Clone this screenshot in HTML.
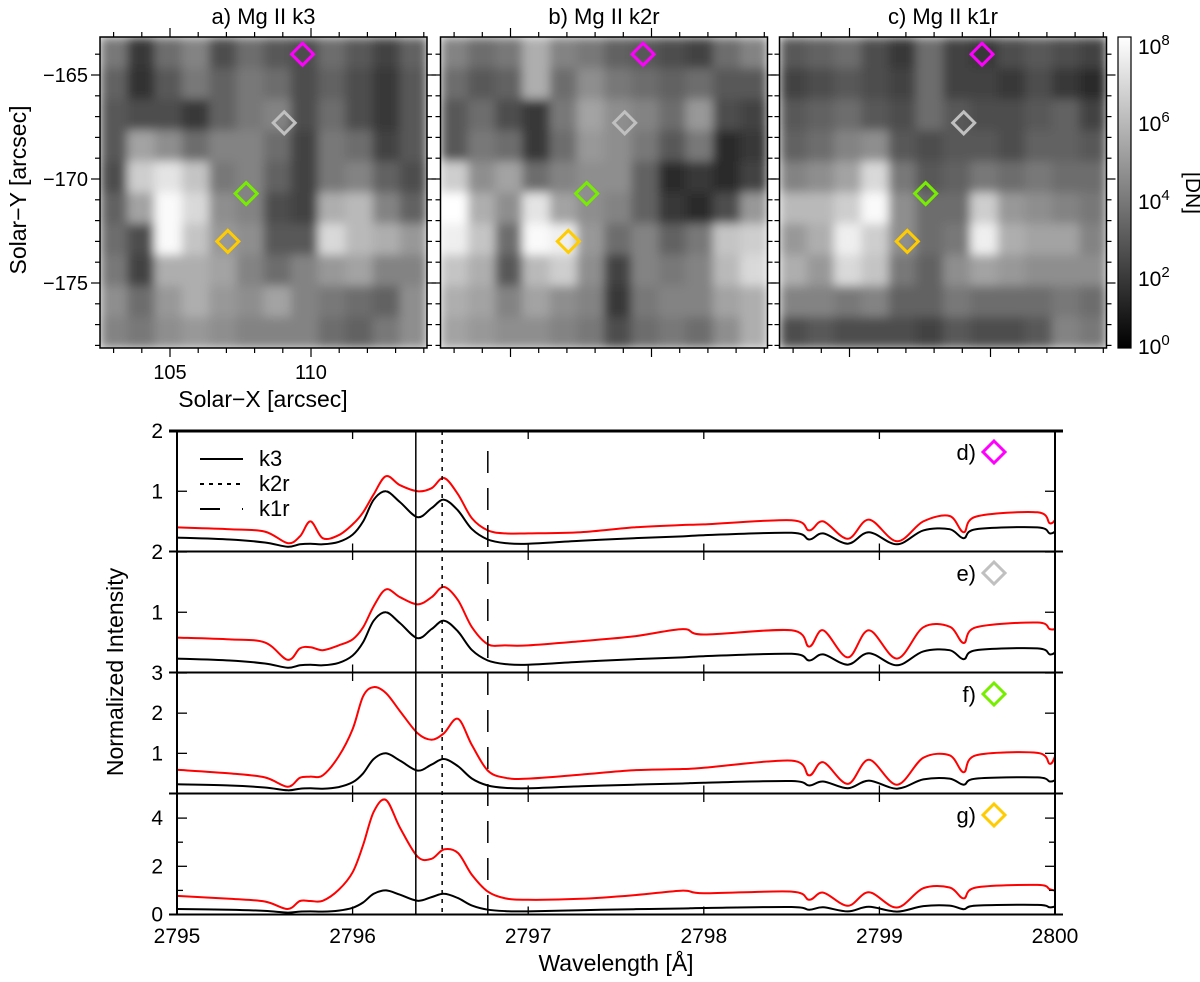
<!DOCTYPE html>
<html><head><meta charset="utf-8">
<style>
html,body{margin:0;padding:0;background:#fff;}
svg{display:block;font-family:"Liberation Sans",sans-serif;}
</style></head>
<body>
<svg id="fig" width="1200" height="982" viewBox="0 0 1200 982" xmlns="http://www.w3.org/2000/svg">
<defs>
<linearGradient id="cbar" x1="0" y1="1" x2="0" y2="0">
<stop offset="0" stop-color="#000"/><stop offset="1" stop-color="#fff"/>
</linearGradient>
<filter id="soft" x="0" y="0" width="1" height="1"><feGaussianBlur stdDeviation="5" edgeMode="duplicate"/></filter>
<clipPath id="clipA"><rect x="100" y="37" width="327" height="311"/></clipPath>
<clipPath id="clipB"><rect x="440.5" y="37" width="327" height="311"/></clipPath>
<clipPath id="clipC"><rect x="779.5" y="37" width="327" height="311"/></clipPath>
</defs>
<g id="maps"></g>
<g>
<rect x="1118" y="37" width="13" height="311" fill="url(#cbar)" stroke="#000" stroke-width="1.2"/>
<g font-size="21" fill="#000">
<text x="1138" y="54">10<tspan dy="-9" font-size="15">8</tspan></text>
<text x="1138" y="131">10<tspan dy="-9" font-size="15">6</tspan></text>
<text x="1138" y="209">10<tspan dy="-9" font-size="15">4</tspan></text>
<text x="1138" y="286">10<tspan dy="-9" font-size="15">2</tspan></text>
<text x="1138" y="354">10<tspan dy="-9" font-size="15">0</tspan></text>
<text transform="translate(1186,193) rotate(90)" text-anchor="middle">[DN]</text>
</g>
</g>
<g id="spec"></g>
</svg>
<script>
// ---------- image map data (coarse grayscale, 12 cols x 10 rows) ----------
const mapA = [
[100,40,90,110,60,90,70,60,90,70,50,80],
[80,35,70,100,80,100,90,60,80,60,40,70],
[70,60,60,40,80,100,110,60,90,60,40,70],
[70,140,120,90,110,110,90,50,100,90,50,70],
[60,180,200,170,100,110,80,50,100,110,80,60],
[80,140,220,190,120,110,60,50,150,160,110,80],
[90,60,220,170,130,120,70,70,190,160,150,130],
[100,50,150,150,140,110,90,110,130,140,110,110],
[120,90,130,150,130,120,140,110,100,90,80,120],
[110,100,120,130,120,110,110,110,90,80,100,120]];
const mapB = [
[110,90,100,150,110,100,80,70,60,50,90,110],
[90,70,80,150,90,120,100,90,80,90,70,70],
[70,90,60,40,100,140,120,110,90,130,60,50],
[70,100,90,40,90,130,120,100,70,100,30,40],
[180,120,140,90,110,120,120,80,30,40,30,50],
[230,150,120,200,140,120,110,80,40,30,60,130],
[210,170,90,220,210,130,90,110,80,100,170,180],
[170,150,70,160,180,120,50,110,100,110,160,190],
[150,140,110,140,120,110,40,100,110,110,140,150],
[140,130,120,120,110,100,60,90,100,90,120,150]];
const mapC = [
[70,80,90,60,40,90,50,40,60,70,60,50],
[50,60,70,60,50,90,50,50,40,60,40,30],
[70,80,90,70,60,90,70,60,60,70,80,50],
[80,90,110,120,70,60,70,70,60,80,80,70],
[110,120,140,190,100,70,80,100,90,100,90,90],
[160,160,180,220,120,90,90,180,130,120,110,100],
[130,150,210,180,120,90,100,210,150,140,140,110],
[150,130,190,170,100,80,120,140,130,120,120,120],
[110,110,100,110,80,80,100,90,90,90,100,90],
[60,70,60,60,60,50,70,60,60,70,110,100]];
const mapTitles = ["a) Mg II k3","b) Mg II k2r","c) Mg II k1r"];
const markerX = [109.7, 109.05, 107.7, 107.05];
const markerY = [-164.0, -167.3, -170.7, -173.0];
const markerColors = ["#ff00ff","#c0c0c0","#77ee00","#ffcc00"];
const xTicks = [105, 110];
const yTicks = [-165, -170, -175];

// ---------- spectra data ----------
const wave = [2795.0,2795.3,2795.5,2795.63,2795.7,2795.76,2795.83,2795.92,2796.0,2796.06,2796.12,2796.19,2796.27,2796.37,2796.45,2796.52,2796.6,2796.68,2796.77,2796.87,2797.0,2797.3,2797.6,2797.88,2798.0,2798.5,2798.6,2798.68,2798.82,2798.94,2799.1,2799.25,2799.4,2799.48,2799.55,2799.9,2799.97,2800.0];
const avgProfile = [.23,.20,.15,.08,.12,.13,.12,.16,.28,.50,.86,1.0,.82,.57,.72,.86,.68,.37,.20,.14,.13,.18,.22,.25,.27,.31,.20,.30,.13,.32,.12,.35,.37,.22,.37,.40,.30,.33];
const redD = [.40,.37,.33,.14,.25,.50,.22,.27,.45,.65,.95,1.25,1.1,1.0,1.05,1.22,.95,.55,.35,.30,.30,.32,.40,.44,.45,.52,.35,.50,.21,.53,.17,.50,.59,.32,.58,.65,.47,.52];
const redE = [.58,.55,.50,.21,.40,.42,.37,.45,.55,.75,1.1,1.38,1.25,1.13,1.25,1.42,1.2,.75,.47,.45,.45,.52,.60,.72,.63,.70,.43,.70,.25,.70,.23,.75,.76,.49,.75,.83,.72,.72];
const redF = [.59,.50,.40,.17,.39,.42,.45,.92,1.6,2.42,2.65,2.5,2.05,1.5,1.34,1.5,1.86,1.2,.57,.39,.37,.47,.58,.61,.64,.82,.45,.78,.24,.84,.22,.89,.95,.53,.95,1.01,.74,.92];
const redG = [.77,.65,.54,.23,.56,.56,.57,1.02,1.75,2.88,4.26,4.75,3.6,2.4,2.31,2.7,2.55,1.64,.95,.67,.61,.65,.8,.99,.88,.95,.61,.91,.36,.92,.29,1.09,1.12,.67,1.12,1.23,1.05,.99];
const panelLabels = ["d)","e)","f)","g)"];
const panelYMax = [2,2,3,5];
const panelYTicks = [[1,2],[1,2],[1,2,3],[0,2,4]];
const panelMinor = [[],[],[],[1,3]];
const waveTicks = [2795,2796,2797,2798,2799,2800];
const lineK3 = 2796.36, lineK2r = 2796.51, lineK1r = 2796.77;

const NS = "http://www.w3.org/2000/svg";
function mk(tag, attrs, parent){
  const e = document.createElementNS(NS, tag);
  for (const k in attrs) e.setAttribute(k, attrs[k]);
  parent.appendChild(e);
  return e;
}

// ---------- maps ----------
const maps = document.getElementById('maps');
const panelsX = [100, 440.5, 779.5];
const clips = ['url(#clipA)','url(#clipB)','url(#clipC)'];
const PW = 327, PT = 37, PH = 311;
const sx = v => 170 - 100 + (v - 105) * 28.2;
const sy = v => 75 + (-165 - v) * 20.8;
[mapA, mapB, mapC].forEach((m, p) => {
  const x0 = panelsX[p];
  const g = mk('g', {}, maps);
  
  
  const cg = mk('g', {'clip-path': clips[p]}, g);
  const ig = mk('g', {filter: 'url(#soft)'}, cg);
  const rows = m.length, cols = m[0].length;
  const cw = PW / cols, ch = PH / rows;
  m.forEach((row, r) => row.forEach((v, c) => {
    const b = Math.min(255, Math.round(v * 1.08 + 12));
    const rc = mk('rect', {x: x0 + c*cw, y: PT + r*ch, width: cw + 0.6, height: ch + 0.6, fill: `rgb(${b},${b},${b})`}, ig);
    
    
  }));
  const fr = mk('rect', {x: x0, y: PT, width: PW, height: PH, fill: 'none', stroke: '#000', 'stroke-width': 1.5}, g);
  
  
  for (let v = 103; v <= 114; v++) {
    const X = x0 + sx(v);
    if (X < x0 || X > x0 + PW) continue;
    const L = (v % 5 === 0) ? 9 : 5;
    mk('line', {x1: X, y1: PT + PH, x2: X, y2: PT + PH + L, stroke: '#000', 'stroke-width': 1.2}, g);
    mk('line', {x1: X, y1: PT, x2: X, y2: PT - L, stroke: '#000', 'stroke-width': 1.2}, g);
  }
  for (let v = -163; v >= -178; v--) {
    const Y = sy(v);
    if (Y < PT || Y > PT + PH) continue;
    const L = (v % 5 === 0) ? 9 : 5;
    mk('line', {x1: x0, y1: Y, x2: x0 - L, y2: Y, stroke: '#000', 'stroke-width': 1.2}, g);
    mk('line', {x1: x0 + PW, y1: Y, x2: x0 + PW + L, y2: Y, stroke: '#000', 'stroke-width': 1.2}, g);
  }
  const t = mk('text', {x: x0 + PW/2, y: 24, 'text-anchor': 'middle', 'font-size': 22}, maps);
  t.textContent = mapTitles[p];
  
  
  markerX.forEach((mx, i) => {
    const cx = x0 + sx(mx), cy = sy(markerY[i]), d = 11;
    const dm = mk('polygon', {points: `${cx},${cy-d} ${cx+d},${cy} ${cx},${cy+d} ${cx-d},${cy}`, fill: 'none', stroke: markerColors[i], 'stroke-width': 3}, maps);
    
    
  });
});
xTicks.forEach(v => {
  const t = mk('text', {x: 100 + sx(v), y: 379, 'text-anchor': 'middle', 'font-size': 20}, maps);
  t.textContent = v;
  
  
});
yTicks.forEach(v => {
  const t = mk('text', {x: 88, y: sy(v) + 7, 'text-anchor': 'end', 'font-size': 20}, maps);
  t.textContent = '\u2212' + Math.abs(v);
  
  
});
{
  const t = mk('text', {x: 263, y: 407, 'text-anchor': 'middle', 'font-size': 23}, maps);
  t.textContent = 'Solar\u2212X [arcsec]';
  
  
  const t2 = mk('text', {transform: 'translate(26,190) rotate(-90)', 'text-anchor': 'middle', 'font-size': 23}, maps);
  t2.textContent = 'Solar\u2212Y [arcsec]';
  
  
}

// ---------- spectra ----------
const spec = document.getElementById('spec');
const XL = 177, XR = 1055;
const px = w => XL + (w - 2795) / 5 * (XR - XL);
const panelTop = [431, 552, 673, 794], panelH = 120.5;
const BOTTOM = 914;
function smoothPath(xs, ys){
  let d = `M${xs[0].toFixed(1)},${ys[0].toFixed(1)}`;
  for (let i = 0; i < xs.length - 1; i++) {
    const x0 = xs[Math.max(i-1,0)], y0 = ys[Math.max(i-1,0)];
    const x1 = xs[i], y1 = ys[i], x2 = xs[i+1], y2 = ys[i+1];
    const x3 = xs[Math.min(i+2,xs.length-1)], y3 = ys[Math.min(i+2,xs.length-1)];
    const c1x = x1 + (x2 - x0)/6, c1y = y1 + (y2 - y0)/6;
    const c2x = x2 - (x3 - x1)/6, c2y = y2 - (y3 - y1)/6;
    d += ` C${c1x.toFixed(1)},${c1y.toFixed(1)} ${c2x.toFixed(1)},${c2y.toFixed(1)} ${x2.toFixed(1)},${y2.toFixed(1)}`;
  }
  return d;
}
const reds = [redD, redE, redF, redG];
reds.forEach((red, p) => {
  const top = panelTop[p], bot = top + panelH, ymax = panelYMax[p];
  const py = v => bot - v / ymax * panelH;
  const g = mk('g', {}, spec);
  
  
  const xs = wave.map(px);
  const pb = mk('path', {d: smoothPath(xs, avgProfile.map(py)), fill: 'none', stroke: '#000', 'stroke-width': 2}, g);
  
  
  const pr = mk('path', {d: smoothPath(xs, red.map(py)), fill: 'none', stroke: '#ff0000', 'stroke-width': 2}, g);
  
  
  panelYTicks[p].forEach(v => {
    const Y = py(v);
    mk('line', {x1: XL, y1: Y, x2: XL + 10, y2: Y, stroke: '#000', 'stroke-width': 1.3}, g);
    mk('line', {x1: XR, y1: Y, x2: XR - 10, y2: Y, stroke: '#000', 'stroke-width': 1.3}, g);
    const t = mk('text', {x: 163, y: Y + 7, 'text-anchor': 'end', 'font-size': 21}, g);
    t.textContent = v;
    
    
  });
  panelMinor[p].forEach(v => {
    const Y = py(v);
    mk('line', {x1: XL, y1: Y, x2: XL + 6, y2: Y, stroke: '#000', 'stroke-width': 1.3}, g);
    mk('line', {x1: XR, y1: Y, x2: XR - 6, y2: Y, stroke: '#000', 'stroke-width': 1.3}, g);
  });
  waveTicks.forEach(w => {
    const X = px(w);
    mk('line', {x1: X, y1: bot, x2: X, y2: bot - 8, stroke: '#000', 'stroke-width': 1.3}, g);
    mk('line', {x1: X, y1: top, x2: X, y2: top + 8, stroke: '#000', 'stroke-width': 1.3}, g);
  });
  mk('line', {x1: XL - 8, y1: bot, x2: XR + 8, y2: bot, stroke: '#000', 'stroke-width': 2}, g);
  const lab = mk('text', {x: 976, y: top + 29, 'text-anchor': 'end', 'font-size': 22}, g);
  lab.textContent = panelLabels[p];
  
  
  const cx = 994, cy = top + 21, d = 11;
  const dm = mk('polygon', {points: `${cx},${cy-d} ${cx+d},${cy} ${cx},${cy+d} ${cx-d},${cy}`, fill: 'none', stroke: markerColors[p], 'stroke-width': 3}, g);
  
  
});
mk('line', {x1: XL - 8, y1: 431, x2: XR + 8, y2: 431, stroke: '#000', 'stroke-width': 3}, spec);
mk('line', {x1: XL, y1: 431, x2: XL, y2: BOTTOM, stroke: '#000', 'stroke-width': 2}, spec);
mk('line', {x1: XR, y1: 431, x2: XR, y2: BOTTOM, stroke: '#000', 'stroke-width': 2}, spec);
{
  const v1 = mk('line', {x1: px(lineK3), y1: 431, x2: px(lineK3), y2: BOTTOM, stroke: '#000', 'stroke-width': 1.5}, spec);
  
  
  const v2 = mk('line', {x1: px(lineK2r), y1: 431, x2: px(lineK2r), y2: BOTTOM, stroke: '#000', 'stroke-width': 1.5, 'stroke-dasharray': '4,5'}, spec);
  
  
  const v3 = mk('line', {x1: px(lineK1r), y1: 451, x2: px(lineK1r), y2: BOTTOM, stroke: '#000', 'stroke-width': 1.5, 'stroke-dasharray': '22,15'}, spec);
  
  
}
{
  const lg = mk('g', {}, spec);
  
  
  const names = ['k3','k2r','k1r'], dashes = ['none','4,5','20,22'];
  names.forEach((n, i) => {
    const Y = 459 + i * 25;
    const l = mk('line', {x1: 200, y1: Y, x2: 243, y2: Y, stroke: '#000', 'stroke-width': 2, 'stroke-dasharray': dashes[i]}, lg);
    
    
    const t = mk('text', {x: 259, y: Y + 7, 'font-size': 22}, lg);
    t.textContent = n;
    
    
  });
}
waveTicks.forEach(w => {
  const t = mk('text', {x: px(w), y: 943, 'text-anchor': 'middle', 'font-size': 21}, spec);
  t.textContent = w;
  
  
});
{
  const t = mk('text', {x: 616, y: 971, 'text-anchor': 'middle', 'font-size': 23}, spec);
  t.textContent = 'Wavelength [\u00c5]';
  
  
  const t2 = mk('text', {transform: 'translate(123,672) rotate(-90)', 'text-anchor': 'middle', 'font-size': 23}, spec);
  t2.textContent = 'Normalized Intensity';
  
  
}
</script>
</body></html>
